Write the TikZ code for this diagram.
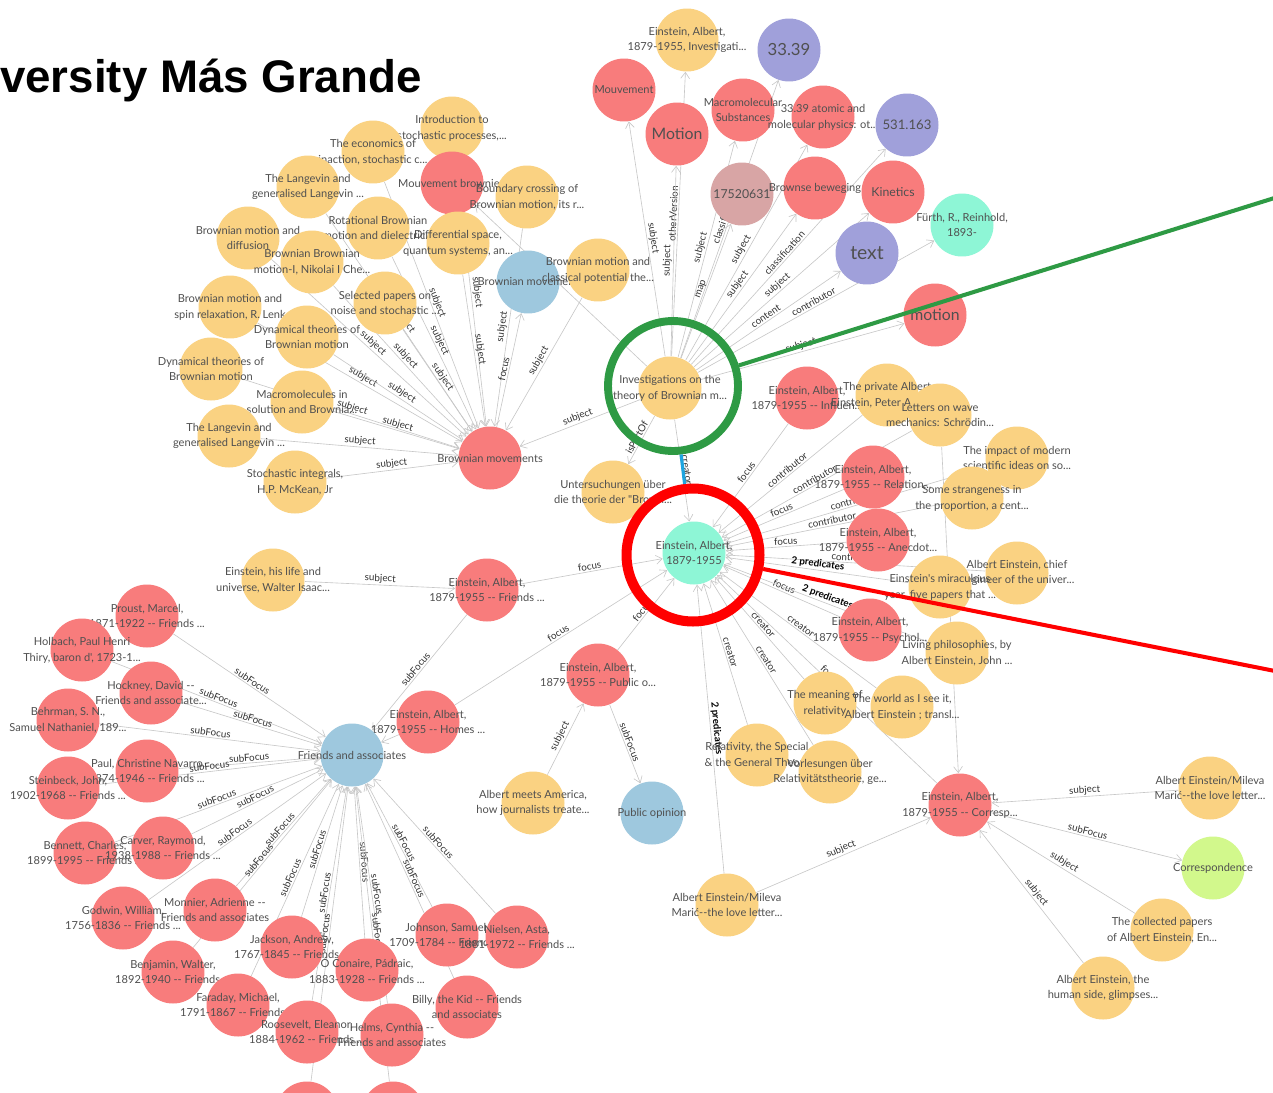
\documentclass[tikz,border=0pt]{standalone}
\usepackage{fontspec}
\setmainfont{Lato}[Ligatures=TeXOff]
\newfontfamily\titlefont{Liberation Sans}
\usetikzlibrary{arrows.meta}
\definecolor{cOr}{HTML}{FAD282}
\definecolor{cRe}{HTML}{F87C7C}
\definecolor{cBl}{HTML}{9EC8DE}
\definecolor{cPu}{HTML}{A0A0DA}
\definecolor{cMi}{HTML}{8EF6D6}
\definecolor{cPk}{HTML}{D8A5A5}
\definecolor{cLi}{HTML}{D2F88C}
\definecolor{ringG}{HTML}{2E9A44}
\definecolor{ringR}{HTML}{FF0000}
\definecolor{segB}{HTML}{1EA5E0}
\definecolor{txt}{HTML}{505050}
\pgfdeclarelayer{back}
\pgfdeclarelayer{bg}
\pgfsetlayers{back,bg,main}
\tikzset{
  gc/.style={circle, minimum size=1.26cm, inner sep=0pt, draw=none},
  gt/.style={align=center, font=\fontsize{6.3}{9}\selectfont, text=txt, inner sep=0pt},
  ed/.style={draw=black!22, line width=0.35pt, -{Straight Barb[length=3.5pt,width=5pt]}},
  el/.style={sloped, above, inner sep=0.8pt, font=\fontsize{5.6}{6}\selectfont, text=black!80},
  elb/.style={el, font=\bfseries\fontsize{5.6}{6}\selectfont, text=black},
}
\newcommand\gnd[5]{\node[gc,fill=#4] (#1) at (#2,#3) {};\node[gt] (#1-t) at (#1) {#5};}
\newcommand\gndf[6]{\node[gc,fill=#4] (#1) at (#2,#3) {};\node[gt,font=#5] (#1-t) at (#1) {#6};}
\begin{document}
\begin{tikzpicture}[x=0.02cm,y=-0.02cm]
\useasboundingbox (0,0) rectangle (1273,1092);
\begin{pgfonlayer}{back}
\fill[white] (0,0) rectangle (1273,1092);
\end{pgfonlayer}
\clip (0,0) rectangle (1273,1092);
\node[anchor=base east, inner sep=0pt, font=\titlefont\bfseries\fontsize{26}{30}\selectfont] (title) at (422,92) {versity Más Grande};

% ---- top cluster
\gnd{EInv}{687}{40}{cOr}{Einstein, Albert,\\1879-1955, Investigati...}
\gndf{N3339}{789}{50}{cPu}{\fontsize{9.5}{10}\selectfont}{33.39}
\gnd{Mouv}{624}{90}{cRe}{Mouvement}
\gnd{Intro}{452}{128}{cOr}{Introduction to\\stochastic processes,...}
\gnd{Econ}{373}{152}{cOr}{The economics of\\inaction, stochastic c...}
\gnd{MacroSub}{743}{110}{cRe}{Macromolecular\\Substances}
\gnd{Atomic}{823}{117}{cRe}{33.39 atomic and\\molecular physics: ot...}
\gndf{N531}{907}{125}{cPu}{\fontsize{7.5}{8}\selectfont}{531.163}
\gndf{Motion}{677}{134}{cRe}{\fontsize{9}{10}\selectfont}{Motion}
\gnd{MouvBr}{452}{183}{cRe}{Mouvement brownien}
\gnd{Lang1}{308}{187}{cOr}{The Langevin and\\generalised Langevin ...}
\gnd{Boundary}{527}{197}{cOr}{Boundary crossing of\\Brownian motion, its r...}
\gndf{N1752}{742}{194}{cPk}{\fontsize{7}{8}\selectfont}{17520631}
\gnd{Brownse}{815}{188}{cRe}{Brownse beweging}
\gndf{Kinetics}{893}{192}{cRe}{\fontsize{7}{8}\selectfont}{Kinetics}
\gnd{Furth}{962}{225}{cMi}{Fürth, R., Reinhold,\\1893-}
\gnd{Rot}{378}{228}{cOr}{Rotational Brownian\\motion and dielectric...}
\gnd{Diffu}{248}{238}{cOr}{Brownian motion and\\diffusion}
\gnd{Diffsp}{458}{243}{cOr}{Differential space,\\quantum systems, an...}
\gndf{TextN}{867}{253}{cPu}{\fontsize{11}{12}\selectfont}{text}
\gnd{BBM}{312}{262}{cOr}{Brownian Brownian\\motion-I, Nikolai I Che...}
\gnd{BMblue}{528}{282}{cBl}{Brownian movement}
\gnd{ClassPot}{598}{270}{cOr}{Brownian motion and\\classical potential the...}
\gnd{Selected}{385}{303}{cOr}{Selected papers on\\noise and stochastic ...}
\gnd{Spin}{230}{307}{cOr}{Brownian motion and\\spin relaxation, R. Lenk}
\gndf{MotionR}{935}{315}{cRe}{\fontsize{9}{10}\selectfont}{motion}
\gnd{Dyn1}{307}{337}{cOr}{Dynamical theories of\\Brownian motion}
\gnd{Dyn2}{211}{369}{cOr}{Dynamical theories of\\Brownian motion}
\gnd{I}{670}{388}{cOr}{Investigations on the\\theory of Brownian m...}
\gnd{Macromol}{302}{402}{cOr}{Macromolecules in\\solution and Brownia...}
\gnd{Lang2}{229}{436}{cOr}{The Langevin and\\generalised Langevin ...}
\gnd{BM}{490}{458}{cRe}{Brownian movements}
\gnd{Stoch}{295}{482}{cOr}{Stochastic integrals,\\H.P. McKean, Jr}
\gnd{Unters}{613}{492}{cOr}{Untersuchungen über\\die theorie der "Brown...}

% ---- right cluster
\gnd{Influ}{807}{398}{cRe}{Einstein, Albert,\\1879-1955 -- Influen...}
\gnd{Private}{887}{395}{cOr}{The private Albert\\Einstein, Peter A. Buc...}
\gnd{Letters}{940}{415}{cOr}{Letters on wave\\mechanics: Schrödin...}
\gnd{Impact}{1017}{458}{cOr}{The impact of modern\\scientific ideas on so...}
\gnd{Relation}{873}{477}{cRe}{Einstein, Albert,\\1879-1955 -- Relation...}
\gnd{Strange}{972}{498}{cOr}{Some strangeness in\\the proportion, a cent...}
\gnd{Anecdot}{878}{540}{cRe}{Einstein, Albert,\\1879-1955 -- Anecdot...}
\gnd{E}{694}{553}{cMi}{Einstein, Albert,\\1879-1955}
\gnd{Chief}{1017}{573}{cOr}{Albert Einstein, chief\\engineer of the univer...}
\gnd{Miracle}{940}{587}{cOr}{Einstein's miraculous\\year, five papers that ...}
\gnd{Psychol}{870}{630}{cRe}{Einstein, Albert,\\1879-1955 -- Psychol...}
\gnd{Living}{957}{653}{cOr}{Living philosophies, by\\Albert Einstein, John ...}
\gnd{Meaning}{825}{703}{cOr}{The meaning of\\relativity}
\gnd{World}{902}{707}{cOr}{The world as I see it,\\Albert Einstein ; transl...}
\gnd{Relat}{757}{755}{cOr}{Relativity, the Special\\\& the General Theory}
\gnd{Vorles}{830}{772}{cOr}{Vorlesungen über\\Relativitätstheorie, ge...}
\gnd{Mileva1}{1210}{788}{cOr}{Albert Einstein/Mileva\\Marić--the love letter...}
\gnd{Corresp}{960}{805}{cRe}{Einstein, Albert,\\1879-1955 -- Corresp...}
\gnd{Correspondence}{1213}{868}{cLi}{Correspondence}
\gnd{Mileva2}{727}{905}{cOr}{Albert Einstein/Mileva\\Marić--the love letter...}
\gnd{Collected}{1162}{930}{cOr}{The collected papers\\of Albert Einstein, En...}
\gnd{Human}{1103}{988}{cOr}{Albert Einstein, the\\human side, glimpses...}

% ---- middle
\gnd{Life}{273}{580}{cOr}{Einstein, his life and\\universe, Walter Isaac...}
\gnd{Fri}{487}{590}{cRe}{Einstein, Albert,\\1879-1955 -- Friends ...}
\gnd{PubO}{598}{675}{cRe}{Einstein, Albert,\\1879-1955 -- Public o...}
\gnd{Homes}{428}{722}{cRe}{Einstein, Albert,\\1879-1955 -- Homes ...}
\gnd{FA}{352}{755}{cBl}{Friends and associates}
\gnd{Meets}{533}{803}{cOr}{Albert meets America,\\how journalists treate...}
\gnd{PubOp}{652}{813}{cBl}{Public opinion}

% ---- friends cluster
\gnd{Proust}{147}{616}{cRe}{Proust, Marcel,\\1871-1922 -- Friends ...}
\gnd{Holbach}{82}{650}{cRe}{Holbach, Paul Henri\\Thiry, baron d', 1723-1...}
\gnd{Hockney}{151}{693}{cRe}{Hockney, David --\\Friends and associate...}
\gnd{Behrman}{68}{720}{cRe}{Behrman, S. N.,\\Samuel Nathaniel, 189...}
\gnd{Paul}{147}{771}{cRe}{Paul, Christine Navarro\\1874-1946 -- Friends ...}
\gnd{Steinbeck}{68}{788}{cRe}{Steinbeck, John,\\1902-1968 -- Friends ...}
\gnd{Bennett}{85}{853}{cRe}{Bennett, Charles,\\1899-1995 -- Friends ...}
\gnd{Carver}{163}{848}{cRe}{Carver, Raymond,\\1938-1988 -- Friends ...}
\gnd{Godwin}{123}{918}{cRe}{Godwin, William,\\1756-1836 -- Friends ...}
\gnd{Monnier}{215}{910}{cRe}{Monnier, Adrienne --\\Friends and associates}
\gnd{Jackson}{292}{947}{cRe}{Jackson, Andrew,\\1767-1845 -- Friends ...}
\gnd{Benjamin}{173}{972}{cRe}{Benjamin, Walter,\\1892-1940 -- Friends ...}
\gnd{OConaire}{367}{970}{cRe}{Ó Conaire, Pádraic,\\1883-1928 -- Friends ...}
\gnd{Faraday}{238}{1005}{cRe}{Faraday, Michael,\\1791-1867 -- Friends ...}
\gnd{Johnson}{447}{935}{cRe}{Johnson, Samuel,\\1709-1784 -- Friends ...}
\gnd{Nielsen}{517}{937}{cRe}{Nielsen, Asta,\\1881-1972 -- Friends ...}
\gnd{Billy}{467}{1007}{cRe}{Billy, the Kid -- Friends\\and associates}
\gnd{Roosevelt}{307}{1032}{cRe}{Roosevelt, Eleanor,\\1884-1962 -- Friends ...}
\gnd{Helms}{392}{1035}{cRe}{Helms, Cynthia --\\Friends and associates}
\node[gc,fill=cRe] (Bot1) at (307,1113) {};
\node[gc,fill=cRe] (Bot2) at (393,1113) {};

% ---- annotations
\node[circle, draw=ringG, line width=4.5pt, minimum size=2.6cm, inner sep=0pt] (gring) at (673,386) {};
\node[circle, draw=ringR, line width=5.7pt, minimum size=2.66cm, inner sep=0pt] (rring) at (693,555) {};
\coordinate (gend) at (1300,190);
\coordinate (rend) at (1300,676);
\draw[ringG, line width=2.3pt] (gring) -- (gend);
\draw[ringR, line width=2.3pt] (rring) -- (rend);
\draw[segB, line width=1.8pt] (gring) -- (rring);

% ---- edges
\begin{pgfonlayer}{bg}
\draw[ed] (I) -- node[el]{otherVersion} (EInv);
\draw[ed] (I) -- node[el]{subject} (Mouv);
\draw[ed] (I) -- node[el]{subject} (Motion);
\draw[ed] (I) -- node[el]{subject} (MacroSub);
\draw[ed] (I) -- node[el]{classification} (N3339);
\draw[ed] (I) -- node[el]{subject} (Atomic);
\draw[ed] (I) -- node[el]{map} (N1752);
\draw[ed] (I) -- node[el]{subject} (Brownse);
\draw[ed] (I) -- node[el]{classification} (N531);
\draw[ed] (I) -- node[el]{subject} (Kinetics);
\draw[ed] (I) -- node[el]{content} (TextN);
\draw[ed] (I) -- node[el]{contributor} (Furth);
\draw[ed] (I) -- node[el]{subject} (MotionR);
\draw[ed] (I) -- (MouvBr);
\draw[ed] (I) -- node[el]{subject} (BM);
\draw[ed] (I) -- node[el]{isPartOf} (Unters);
\draw[ed] (I) -- node[el]{creator} (E);
\foreach \s in {Intro,Econ,Lang1,Boundary,Rot,Diffu,Diffsp,BBM,ClassPot,Selected,Spin,Dyn1,Dyn2,Macromol,Lang2,Stoch}
  \draw[ed] (\s) -- node[el]{subject} (BM);
\draw[ed] (BM) -- node[el]{focus} (BMblue);
% right side into E
\draw[ed] (Influ) -- node[el]{focus} (E);
\draw[ed] (Private) -- node[el]{contributor} (E);
\draw[ed] (Letters) -- node[el]{contributor} (E);
\draw[ed] (Impact) -- node[el]{contributor} (E);
\draw[ed] (Relation) -- node[el]{focus} (E);
\draw[ed] (Strange) -- node[el]{contributor} (E);
\draw[ed] (Anecdot) -- node[el]{focus} (E);
\draw[ed] (Chief) -- node[el]{contributor} (E);
\draw[ed] (Miracle) -- node[elb]{2 predicates} (E);
\draw[ed] (Psychol) -- node[el]{focus} (E);
\draw[ed] (Living) -- node[elb]{2 predicates} (E);
\draw[ed] (Meaning) -- node[el]{creator} (E);
\draw[ed] (World) -- node[el]{creator} (E);
\draw[ed] (Vorles) -- node[el]{creator} (E);
\draw[ed] (Relat) -- node[el]{creator} (E);
\draw[ed] (Corresp) -- node[el]{focus} (E);
\draw[ed] (Mileva2) -- node[elb]{2 predicates} (E);
\draw[ed] (Letters) -- (Corresp);
\draw[ed] (Mileva1) -- node[el]{subject} (Corresp);
\draw[ed] (Corresp) -- node[el]{subFocus} (Correspondence);
\draw[ed] (Collected) -- node[el]{subject} (Corresp);
\draw[ed] (Human) -- node[el]{subject} (Corresp);
\draw[ed] (Mileva2) -- node[el]{subject} (Corresp);
% middle
\draw[ed] (Life) -- node[el]{subject} (Fri);
\draw[ed] (Fri) -- node[el]{focus} (E);
\draw[ed] (Homes) -- node[el]{focus} (E);
\draw[ed] (PubO) -- node[el]{focus} (E);
\draw[ed] (Meets) -- node[el]{subject} (PubO);
\draw[ed] (PubO) -- node[el]{subFocus} (PubOp);
\draw[ed] (Fri) -- node[el]{subFocus} (FA);
\draw[ed] (Homes) -- (FA);
\foreach \s in {Proust,Holbach,Hockney,Behrman,Paul,Steinbeck,Bennett,Carver,Godwin,Monnier,Jackson,Benjamin,OConaire,Faraday,Johnson,Nielsen,Billy,Roosevelt,Helms,Bot1,Bot2}
  \draw[ed] (\s) -- node[el]{subFocus} (FA);
\end{pgfonlayer}
\end{tikzpicture}
\end{document}
